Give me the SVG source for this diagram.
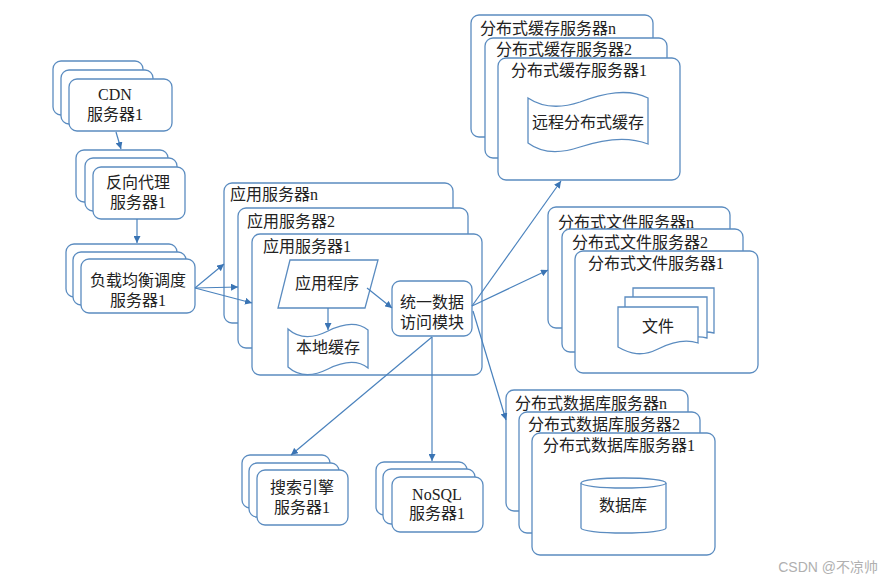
<svg xmlns="http://www.w3.org/2000/svg" width="885" height="581" viewBox="0 0 885 581">
<style>
.card{fill:#fff;stroke:#5b8cc0;stroke-width:1.3}
.shape{fill:#fff;stroke:#5b8cc0;stroke-width:1.3}
.t{font-family:"Liberation Serif","Noto Sans CJK SC",serif;font-size:16px;fill:#222}
.c{text-anchor:middle}
.conn{fill:none;stroke:#4a82bd;stroke-width:1.2}
.wm{font-family:"Liberation Sans","Noto Sans CJK SC",sans-serif;font-size:14px;fill:#b0b0b0;text-anchor:end}
</style>
<defs>
<marker id="ah" viewBox="0 0 10 10" refX="10" refY="5" markerWidth="7" markerHeight="7" markerUnits="userSpaceOnUse" orient="auto">
<path d="M0,0 L10,5 L0,10 Z" fill="#3a74b4"/>
</marker>
</defs>
<rect width="885" height="581" fill="#fff"/>

<g id="cdn">
<rect class="card" x="53" y="61" width="90" height="54" rx="8"/>
<rect class="card" x="61" y="70" width="92" height="54" rx="8"/>
<rect class="card" x="69" y="79" width="103" height="52" rx="8"/>
<text class="t c" x="115" y="100">CDN</text>
<text class="t c" x="115" y="120">服务器1</text>
</g>

<g id="reverse-proxy">
<rect class="card" x="76" y="150" width="92" height="52" rx="8"/>
<rect class="card" x="85" y="158" width="92" height="53" rx="8"/>
<rect class="card" x="93" y="167" width="92" height="52" rx="8"/>
<text class="t c" x="138" y="188">反向代理</text>
<text class="t c" x="138" y="208">服务器1</text>
</g>

<g id="load-balancer">
<rect class="card" x="66" y="244" width="111" height="53" rx="8"/>
<rect class="card" x="73" y="252" width="113" height="53" rx="8"/>
<rect class="card" x="81" y="259" width="114" height="54" rx="8"/>
<text class="t c" x="138" y="286">负载均衡调度</text>
<text class="t c" x="138" y="306">服务器1</text>
</g>

<g id="app-servers">
<rect class="card" x="224" y="183" width="229" height="140" rx="8"/>
<text class="t" x="230" y="200">应用服务器n</text>
<rect class="card" x="238" y="208" width="230" height="140" rx="8"/>
<text class="t" x="247" y="227">应用服务器2</text>
<rect class="card" x="252" y="234" width="230" height="141" rx="8"/>
<text class="t" x="263" y="252">应用服务器1</text>
</g>

<g id="app-program">
<path class="shape" d="M290,260 L378,260 L365,308 L278,308 Z"/>
<text class="t c" x="327" y="289">应用程序</text>
</g>

<g id="local-cache">
<path class="shape" d="M288,329 C298,338 312,339 328,331 C344,323 358,322 368,330 V368 C358,360 344,361 328,369 C312,377 298,376 288,367 Z"/>
<text class="t c" x="328" y="353">本地缓存</text>
</g>

<g id="data-access">
<rect class="shape" x="392" y="281" width="80" height="55" rx="8"/>
<text class="t c" x="432" y="308">统一数据</text>
<text class="t c" x="432" y="328">访问模块</text>
</g>

<g id="cache-servers">
<rect class="card" x="471" y="15" width="182" height="122" rx="8"/>
<text class="t" x="480" y="34">分布式缓存服务器n</text>
<rect class="card" x="485" y="38" width="182" height="120" rx="8"/>
<text class="t" x="496" y="55">分布式缓存服务器2</text>
<rect class="card" x="498" y="58" width="182" height="122" rx="8"/>
<text class="t" x="511" y="76">分布式缓存服务器1</text>
<path class="shape" d="M528,98 C540,106 556,110 580,102 C604,93 628,88 648,98 V144 C628,136 604,139 580,147 C556,155 540,152 528,143 Z"/>
<text class="t c" x="588" y="128">远程分布式缓存</text>
</g>

<g id="file-servers">
<rect class="card" x="548" y="207" width="182" height="121" rx="8"/>
<text class="t" x="558" y="228">分布式文件服务器n</text>
<rect class="card" x="562" y="229" width="181" height="123" rx="8"/>
<text class="t" x="572" y="248">分布式文件服务器2</text>
<rect class="card" x="575" y="251" width="183" height="122" rx="8"/>
<text class="t" x="588" y="269">分布式文件服务器1</text>
<path class="shape" d="M633,288 H714 V333 C706,331 700,332 694,334 L633,334 Z"/>
<path class="shape" d="M625,297 H707 V338 C699,336 692,337 686,339 L625,339 Z"/>
<path class="shape" d="M618,307 H698 V343 C686,339 672,342 658,349 C642,357 630,354 618,347 Z"/>
<text class="t c" x="658" y="332">文件</text>
</g>

<g id="db-servers">
<rect class="card" x="506" y="390" width="182" height="121" rx="8"/>
<text class="t" x="515" y="409">分布式数据库服务器n</text>
<rect class="card" x="519" y="412" width="181" height="121" rx="8"/>
<text class="t" x="528" y="430">分布式数据库服务器2</text>
<rect class="card" x="532" y="433" width="183" height="122" rx="8"/>
<text class="t" x="543" y="451">分布式数据库服务器1</text>
<path class="shape" d="M581,483 V528 A42.5,5 0 0 0 666,528 V483"/>
<ellipse class="shape" cx="623.5" cy="483" rx="42.5" ry="5"/>
<text class="t c" x="623" y="511">数据库</text>
</g>

<g id="search">
<rect class="card" x="242" y="455" width="88" height="53" rx="8"/>
<rect class="card" x="249" y="463" width="90" height="54" rx="8"/>
<rect class="card" x="257" y="470" width="91" height="55" rx="8"/>
<text class="t c" x="302" y="493">搜索引擎</text>
<text class="t c" x="302" y="513">服务器1</text>
</g>

<g id="nosql">
<rect class="card" x="376" y="462" width="91" height="53" rx="8"/>
<rect class="card" x="383" y="469" width="92" height="55" rx="8"/>
<rect class="card" x="392" y="477" width="91" height="55" rx="8"/>
<text class="t c" x="437" y="500">NoSQL</text>
<text class="t c" x="437" y="519">服务器1</text>
</g>

<g id="connectors">
<line class="conn" x1="116" y1="132" x2="121" y2="149" marker-end="url(#ah)"/>
<line class="conn" x1="137" y1="219" x2="137" y2="243" marker-end="url(#ah)"/>
<line class="conn" x1="195" y1="288" x2="224" y2="264" marker-end="url(#ah)"/>
<line class="conn" x1="195" y1="288" x2="238" y2="287" marker-end="url(#ah)"/>
<line class="conn" x1="195" y1="288" x2="252" y2="303" marker-end="url(#ah)"/>
<line class="conn" x1="328" y1="308" x2="328" y2="330" marker-end="url(#ah)"/>
<line class="conn" x1="367" y1="288" x2="392" y2="308" marker-end="url(#ah)"/>
<line class="conn" x1="472" y1="306" x2="561" y2="181" marker-end="url(#ah)"/>
<line class="conn" x1="472" y1="306" x2="548" y2="270" marker-end="url(#ah)"/>
<line class="conn" x1="473" y1="311" x2="506" y2="420" marker-end="url(#ah)"/>
<line class="conn" x1="432" y1="337" x2="291" y2="455" marker-end="url(#ah)"/>
<line class="conn" x1="432" y1="337" x2="432" y2="461" marker-end="url(#ah)"/>
</g>

<text class="wm" x="878" y="572">CSDN @不凉帅</text>
</svg>
